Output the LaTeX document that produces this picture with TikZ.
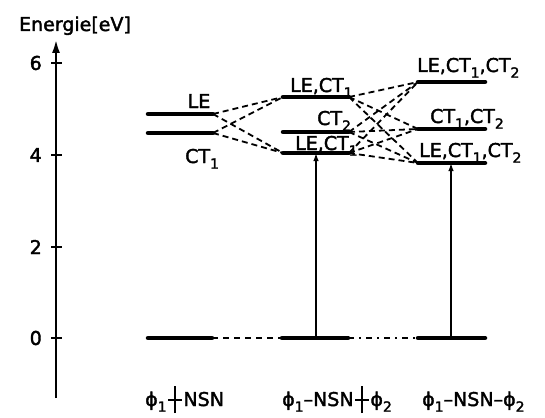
\documentclass[tikz,border=0pt]{standalone}
\usepackage{fontspec}
\setmainfont{DejaVu Sans}[FakeBold=2]
\usetikzlibrary{arrows.meta}
\newcommand\lowidx[1]{\raisebox{-0.3em}{\fontsize{14}{14}\selectfont #1}}
\newcommand\cutbond{\kern0.08em\rule[0.28em]{0.32em}{1.8pt}\rule[-0.38em]{1.6pt}{1.45em}\rule[0.28em]{0.32em}{1.8pt}\kern0.08em}
\begin{document}
\begin{tikzpicture}[x=1pt,y=-1pt,
  lvl/.style={line width=4.5pt, line cap=round},
  conn/.style={line width=1.8pt, dash pattern=on 6pt off 4pt},
  gconn/.style={line width=1.9pt, dash pattern=on 6pt off 5pt},
  gconntwo/.style={line width=1.9pt, dash pattern=on 6pt off 5pt on 2pt off 5pt},
  exc/.style={line width=1.4pt, -{Latex[length=8pt,width=5.5pt]}},
  lab/.style={inner sep=0pt, anchor=base west, font=\fontsize{19}{19}\selectfont},
  tick/.style={line width=1.6pt},
  tlab/.style={inner sep=0pt, anchor=east, font=\fontsize{19}{19}\selectfont}]
\useasboundingbox (0,0) rectangle (545,417);
% axis
\coordinate (axb) at (56,398);
\coordinate (axt) at (56,39);
\draw[line width=2.6pt, -{Latex[length=14pt,width=8pt]}] (axb) -- (axt);
\foreach \v/\y in {6/63,4/155,2/247,0/338}{
  \coordinate (t\v) at (56,\y);
  \draw[tick] ([xshift=-5pt]t\v) -- ([xshift=6pt]t\v);
  \node[tlab] (tl\v) at (42,\y) {\v};
}
\node[inner sep=0pt, anchor=base, font=\fontsize{19}{19}\selectfont] (ylab) at (75,31) {Energie[eV]};
% column 1
\coordinate (a1L) at (148,114); \coordinate (a1R) at (213,114);
\coordinate (a2L) at (148,133); \coordinate (a2R) at (213,133);
\coordinate (a0L) at (148,338); \coordinate (a0R) at (212,338);
% column 2
\coordinate (b1L) at (283,97);  \coordinate (b1R) at (349,97);
\coordinate (b2L) at (283,132); \coordinate (b2R) at (349,132);
\coordinate (b3L) at (283,153); \coordinate (b3R) at (349,153);
\coordinate (b0L) at (282,338); \coordinate (b0R) at (348,338);
% column 3
\coordinate (c1L) at (418,82);  \coordinate (c1R) at (485,82);
\coordinate (c2L) at (418,129); \coordinate (c2R) at (485,129);
\coordinate (c3L) at (418,163); \coordinate (c3R) at (485,163);
\coordinate (c0L) at (418,338); \coordinate (c0R) at (485,338);
\foreach \p in {a1,a2,a0,b1,b2,b3,b0,c1,c2,c3,c0}{
  \draw[lvl] (\p L) -- (\p R);
}
% connectors
\draw[conn] (a1R) -- (b1L);
\draw[conn] (a1R) -- (b3L);
\draw[conn] (a2R) -- (b1L);
\draw[conn] (a2R) -- (b3L);
\foreach \s in {b1,b2,b3}{
  \foreach \t in {c1,c2,c3}{
    \draw[conn] (\s R) -- (\t L);
  }
}
\draw[gconn] (a0R) -- (b0L);
\draw[gconntwo] (b0R) -- (c0L);
% excitations
\coordinate (e2b) at (316,338); \coordinate (e2t) at (316,153);
\coordinate (e3b) at (451,338); \coordinate (e3t) at (451,163);
\draw[exc] (e2b) -- (e2t);
\draw[exc] (e3b) -- (e3t);
% labels
\node[lab, anchor=base] (la1) at (199,108) {LE};
\node[lab] (la2) at (185,163) {CT\lowidx{1}};
\node[lab] (lb1) at (290,92) {LE,CT\lowidx{1}};
\node[lab] (lb2) at (317,125) {CT\lowidx{2}};
\node[lab] (lb3) at (295,150) {LE,CT\lowidx{1}};
\node[lab] (lc1) at (417,72) {LE,CT\lowidx{1},CT\lowidx{2}};
\node[lab] (lc2) at (430,123) {CT\lowidx{1},CT\lowidx{2}};
\node[lab] (lc3) at (419,157) {LE,CT\lowidx{1},CT\lowidx{2}};
% molecule names
\node[lab] (m1) at (145,406) {ϕ\lowidx{1}\cutbond NSN};
\node[lab] (m2) at (282,406) {ϕ\lowidx{1}–NSN\cutbond ϕ\lowidx{2}};
\node[lab] (m3) at (422,406) {ϕ\lowidx{1}–NSN–ϕ\lowidx{2}};
\end{tikzpicture}
\end{document}
